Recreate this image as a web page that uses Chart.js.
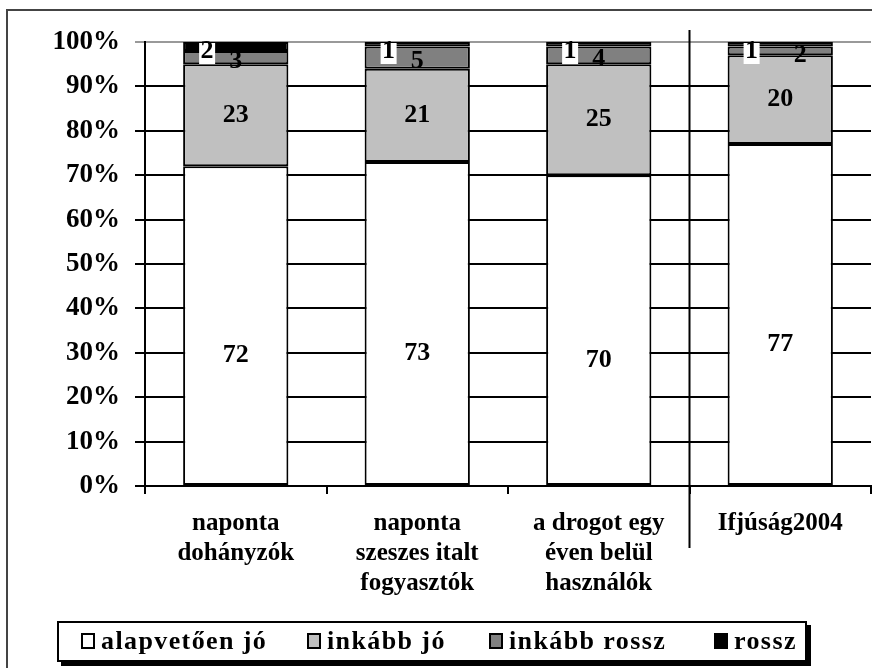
<!DOCTYPE html>
<html><head><meta charset="utf-8">
<script src="https://cdn.jsdelivr.net/npm/chart.js@4/dist/chart.umd.min.js"></script>
<style>
html,body{margin:0;padding:0;background:#fff;}
#wrap{position:relative;width:872px;height:668px;overflow:hidden;background:#fff;}
#frame{position:absolute;left:6px;top:9px;width:900px;height:700px;border:2px solid #444;box-sizing:border-box;}
canvas{position:absolute;left:0;top:0;}
#legend{position:absolute;left:57px;top:621px;width:750px;height:41px;border:2px solid #000;box-sizing:border-box;background:#fff;box-shadow:4px 4px 0 #000;font-family:"Liberation Serif","Times New Roman",serif;font-weight:bold;font-size:26px;color:#000;}
.it{position:absolute;display:flex;align-items:center;top:3px;letter-spacing:1.4px;}
.sw{width:14px;height:16px;border:2px solid #000;margin-right:6px;box-sizing:border-box;}
</style></head>
<body>
<div id="wrap">
<div id="frame"></div>
<canvas id="c" width="872" height="668"></canvas>
<div id="legend"></div>
</div>
<script>
const categories = [["naponta","dohányzók"],["naponta","szeszes italt","fogyasztók"],["a drogot egy","éven belül","használók"],["Ifjúság2004"]];
const seriesNames = ["alapvetően jó","inkább jó","inkább rossz","rossz"];
const alapvetoenJo = [72,73,70,77];
const inkabbJo = [23,21,25,20];
const inkabbRossz = [3,5,4,2];
const rossz = [2,1,1,1];
const yTicks = [0,10,20,30,40,50,60,70,80,90,100];
const colors = ["#ffffff","#c0c0c0","#808080","#000000"];

const FONT = '"Liberation Serif","Times New Roman",serif';

// legend
const legendEl = document.getElementById('legend');
const legendX = [22, 248, 430, 655];
seriesNames.forEach((n,i)=>{
  const it=document.createElement('div');it.className='it';it.style.left=legendX[i]+'px';
  const sw=document.createElement('div');sw.className='sw';sw.style.background=colors[i];
  const t=document.createElement('span');t.textContent=n;
  it.appendChild(sw);it.appendChild(t);legendEl.appendChild(it);
});

const labelPlugin = {
  id:'labels',
  afterDatasetsDraw(chart){
    const ctx=chart.ctx;
    ctx.save();
    ctx.font='bold 26px '+FONT;
    ctx.textAlign='center';
    ctx.textBaseline='middle';
    chart.data.datasets.forEach((ds,di)=>{
      const meta=chart.getDatasetMeta(di);
      meta.data.forEach((el,i)=>{
        const v=ds.data[i];
        const top=Math.min(el.y,el.base), bot=Math.max(el.y,el.base);
        const left=el.x-el.width/2;
        let x=el.x, y=(top+bot)/2;
        if(di===0){ y+=30; }
        if(di===2){ y+=4; if(v<=2) x+=20; }
        if(di===3){
          x=left+24; y=top+9;
          ctx.fillStyle='#fff';
          ctx.fillRect(x-8,top+1,16,21);
        }
        ctx.fillStyle='#000';
        ctx.fillText(String(v),x,y);
      });
    });
    ctx.restore();
  }
};

const sepPlugin = {
  id:'sep',
  afterDraw(chart){
    const xs=chart.scales.x;
    const x=(xs.getPixelForValue(2)+xs.getPixelForValue(3))/2;
    const ctx=chart.ctx;
    ctx.save();ctx.strokeStyle='#000';ctx.lineWidth=2;
    ctx.beginPath();ctx.moveTo(x,30);ctx.lineTo(x,548);ctx.stroke();
    ctx.restore();
  }
};

new Chart(document.getElementById('c'),{
  type:'bar',
  data:{
    labels:categories,
    datasets:[alapvetoenJo,inkabbJo,inkabbRossz,rossz].map((d,i)=>({
      label:seriesNames[i],data:d,backgroundColor:colors[i],borderColor:'#000',borderWidth:2,borderSkipped:false,
      barPercentage:0.58,categoryPercentage:1
    }))
  },
  options:{
    responsive:false,animation:false,
    layout:{padding:{top:42,right:1,left:0,bottom:0}},
    plugins:{legend:{display:false},tooltip:{enabled:false}},
    scales:{
      x:{stacked:true,
        grid:{display:true,drawOnChartArea:false,tickLength:8,color:'#000',lineWidth:2,offset:true},
        border:{display:true,color:'#000',width:2},
        ticks:{color:'#000',font:{family:FONT,weight:'bold',size:25,lineHeight:1.2},padding:15,maxRotation:0,autoSkip:false},
        afterFit(s){s.height=182;}
      },
      y:{stacked:true,min:0,max:100,
        afterBuildTicks(s){s.ticks=yTicks.map(v=>({value:v}));},
        grid:{color:(c)=>c.tick&&c.tick.value===100?'#999':'#000',lineWidth:2,tickLength:10},
        border:{display:true,color:'#000',width:2},
        ticks:{color:'#000',font:{family:FONT,weight:'bold',size:27},padding:15,callback:v=>v+'%'},
        afterFit(s){s.width=145;}
      }
    }
  },
  plugins:[labelPlugin,sepPlugin]
});
</script>
</body></html>
